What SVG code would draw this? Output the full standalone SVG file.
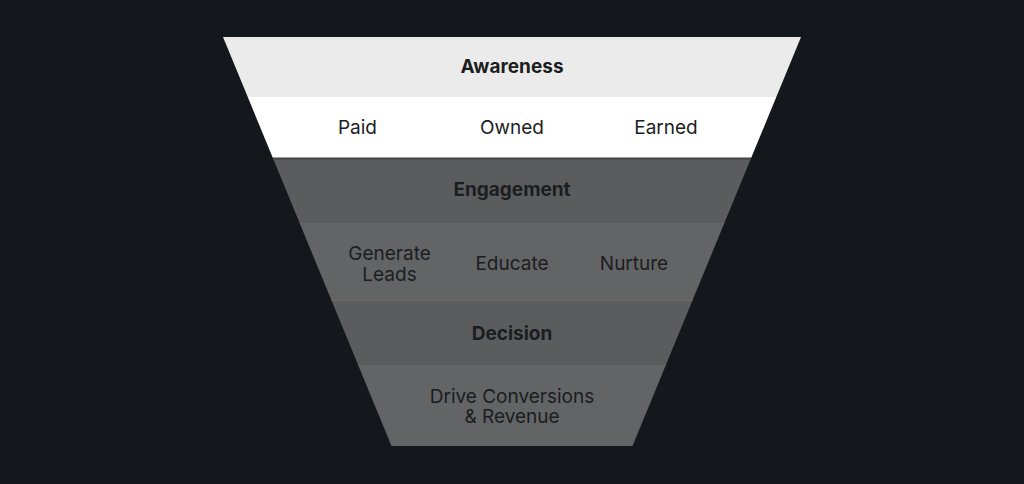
<svg xmlns="http://www.w3.org/2000/svg" width="1024" height="484" viewBox="0 0 1024 484">
<style>
.t{font-family:Inter,"Noto Sans","Liberation Sans",sans-serif;font-size:19px;text-anchor:middle;fill:#1b1d21}
.b{font-weight:700}
</style>
<defs>
<clipPath id="funnel"><polygon points="223,37 801,37 632.5,446 391.5,446"/></clipPath>
</defs>
<rect width="1024" height="484" fill="#14171c"/>
<g clip-path="url(#funnel)">
<g id="awareness">
<rect x="0" y="37" width="1024" height="60" fill="#ebebeb"/>
<text class="t b" x="512" y="72.7">Awareness</text>
</g>
<g id="awareness-channels">
<rect x="0" y="97" width="1024" height="61" fill="#ffffff"/>
<text class="t" x="357.5" y="134">Paid</text>
<text class="t" x="512" y="134">Owned</text>
<text class="t" x="666" y="134">Earned</text>
</g>
<g id="engagement">
<rect x="0" y="158" width="1024" height="66" fill="#5b5c5e"/>
<text class="t b" x="512" y="196">Engagement</text>
</g>
<g id="engagement-actions">
<rect x="0" y="223" width="1024" height="78" fill="#636466"/>
<text class="t" x="389.5" y="260">Generate</text>
<text class="t" x="389.5" y="280.5">Leads</text>
<text class="t" x="512" y="269.5">Educate</text>
<text class="t" x="634" y="269.5">Nurture</text>
</g>
<g id="decision">
<rect x="0" y="300" width="1024" height="66" fill="#5b5c5e"/>
<text class="t b" x="512" y="339.5">Decision</text>
</g>
<g id="decision-action">
<rect x="0" y="365" width="1024" height="82" fill="#636466"/>
<text class="t" x="512" y="402.8">Drive Conversions</text>
<text class="t" x="512" y="423.3">&amp; Revenue</text>
</g>
<g id="connectors">
<line x1="0" y1="158.5" x2="1024" y2="158.5" stroke="#444546" stroke-width="2"/>
<line x1="0" y1="300.5" x2="1024" y2="300.5" stroke="#6f665c" stroke-width="1.5"/>
</g>
</g>
</svg>
